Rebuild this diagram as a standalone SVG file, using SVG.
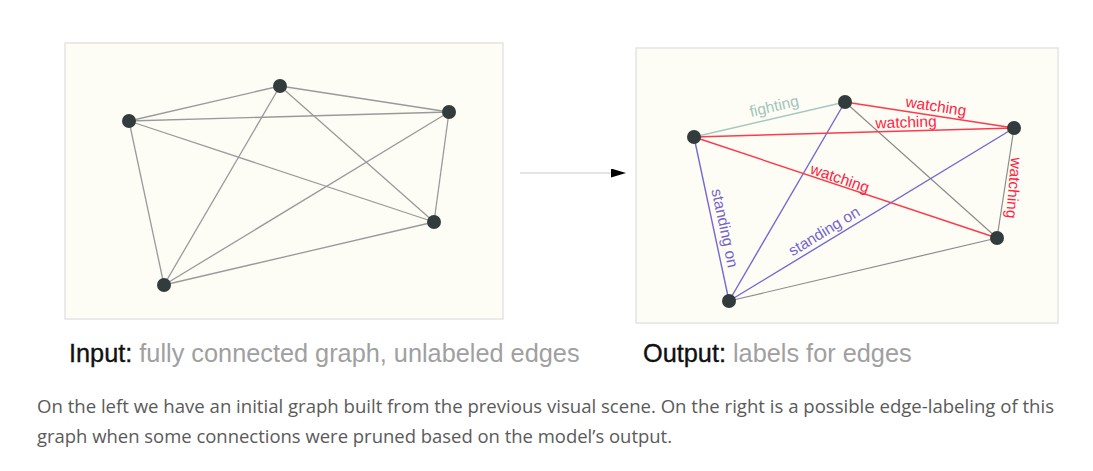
<svg xmlns="http://www.w3.org/2000/svg" width="1093" height="471" viewBox="0 0 1093 471">
<defs>
<style>
.panel{fill:#fdfdf6;stroke:#e4e4e4;stroke-width:1.5}
.node{fill:#333c3c}
.e{stroke:#9a9a9a;stroke-width:1.3;fill:none}
.eg{stroke:#8c8c8c;stroke-width:1.2;fill:none}
.er{stroke:#ff3a4c;stroke-width:1.5;fill:none}
.eb{stroke:#7468d2;stroke-width:1.4;fill:none}
.ef{stroke:#a6c8c0;stroke-width:1.4;fill:none}
.lbl{font-family:"Liberation Sans",Arial,sans-serif;font-size:15.5px;text-anchor:middle}
.lr{fill:#ff2444}
.lb{fill:#7566cc}
.lf{fill:#a2c4bc}
.cap{font-family:"Liberation Sans",Arial,sans-serif;font-size:25.3px}
.capk{fill:#111111;stroke:#111111;stroke-width:0.35}
.capg{fill:#a0a0a0}
.para{font-family:"Open Sans","Noto Sans",sans-serif;font-size:18.5px;fill:#5a5a5a}
</style>
<marker id="arr" viewBox="0 0 10 10" refX="0" refY="5" markerWidth="15" markerHeight="9" markerUnits="userSpaceOnUse" orient="auto" preserveAspectRatio="none">
<path d="M0,0 L10,5 L0,10 Z" fill="#000"/>
</marker>
</defs>
<rect x="0" y="0" width="1093" height="471" fill="#ffffff"/>

<!-- panels -->
<rect class="panel" x="65" y="43" width="438" height="276"/>
<rect class="panel" x="636" y="48" width="422" height="275"/>

<g id="connectors">
<!-- left: fully connected -->
<line class="e" x1="129" y1="121" x2="280" y2="86"/>
<line class="e" x1="280" y1="86" x2="449" y2="112"/>
<line class="e" x1="129" y1="121" x2="449" y2="112"/>
<line class="e" x1="129" y1="121" x2="164" y2="285"/>
<line class="e" x1="280" y1="86" x2="164" y2="285"/>
<line class="e" x1="280" y1="86" x2="434" y2="222"/>
<line class="e" x1="129" y1="121" x2="434" y2="222"/>
<line class="e" x1="449" y1="112" x2="164" y2="285"/>
<line class="e" x1="449" y1="112" x2="434" y2="222"/>
<line class="e" x1="434" y1="222" x2="164" y2="285"/>

<!-- arrow between panels -->
<line x1="520" y1="173" x2="611" y2="173" stroke="#dcdcdc" stroke-width="1.3" marker-end="url(#arr)"/>

<!-- right: labeled -->
<line class="ef" x1="694" y1="137" x2="845" y2="102"/>
<line class="eg" x1="845" y1="102" x2="997" y2="238"/>
<line class="eg" x1="1014" y1="128" x2="997" y2="238"/>
<line class="eg" x1="997" y1="238" x2="729" y2="301"/>
<line class="eb" x1="694" y1="137" x2="729" y2="301"/>
<line class="eb" x1="845" y1="102" x2="729" y2="301"/>
<line class="eb" x1="1014" y1="128" x2="729" y2="301"/>
<line class="er" x1="845" y1="102" x2="1014" y2="128"/>
<line class="er" x1="694" y1="137" x2="1014" y2="128"/>
<line class="er" x1="694" y1="137" x2="997" y2="238"/>

<!-- edge labels -->
<text class="lbl lf" transform="translate(774,106) rotate(-13)" dy="0.35em">fighting</text>
<text class="lbl lr" transform="translate(936,106) rotate(8.7)" dy="0.35em">watching</text>
<text class="lbl lr" transform="translate(906,122) rotate(-2)" dy="0.35em">watching</text>
<text class="lbl lr" transform="translate(840,178) rotate(19)" dy="0.35em">watching</text>
<text class="lbl lr" transform="translate(1014,188) rotate(95)" dy="0.35em">watching</text>
<text class="lbl lb" transform="translate(725,228) rotate(78)" dy="0.35em">standing on</text>
<text class="lbl lb" transform="translate(824,231) rotate(-31.3)" dy="0.35em">standing on</text>
</g>

<!-- left nodes -->
<g id="in-n1"><circle class="node" cx="129" cy="121" r="7"/></g>
<g id="in-n2"><circle class="node" cx="280" cy="86" r="7"/></g>
<g id="in-n3"><circle class="node" cx="449" cy="112" r="7"/></g>
<g id="in-n4"><circle class="node" cx="434" cy="222" r="7"/></g>
<g id="in-n5"><circle class="node" cx="164" cy="285" r="7"/></g>

<!-- right nodes -->
<g id="out-n1"><circle class="node" cx="694" cy="137" r="7"/></g>
<g id="out-n2"><circle class="node" cx="845" cy="102" r="7"/></g>
<g id="out-n3"><circle class="node" cx="1014" cy="128" r="7"/></g>
<g id="out-n4"><circle class="node" cx="997" cy="238" r="7"/></g>
<g id="out-n5"><circle class="node" cx="729" cy="301" r="7"/></g>

<!-- captions -->
<text class="cap" x="69" y="362"><tspan class="capk">Input:</tspan><tspan class="capg"> fully connected graph, unlabeled edges</tspan></text>
<text class="cap" x="643" y="362"><tspan class="capk">Output:</tspan><tspan class="capg"> labels for edges</tspan></text>

<text class="para" x="37" y="413" textLength="1017" lengthAdjust="spacingAndGlyphs">On the left we have an initial graph built from the previous visual scene. On the right is a possible edge-labeling of this</text>
<text class="para" x="37" y="443" textLength="635" lengthAdjust="spacingAndGlyphs">graph when some connections were pruned based on the model’s output.</text>
</svg>
